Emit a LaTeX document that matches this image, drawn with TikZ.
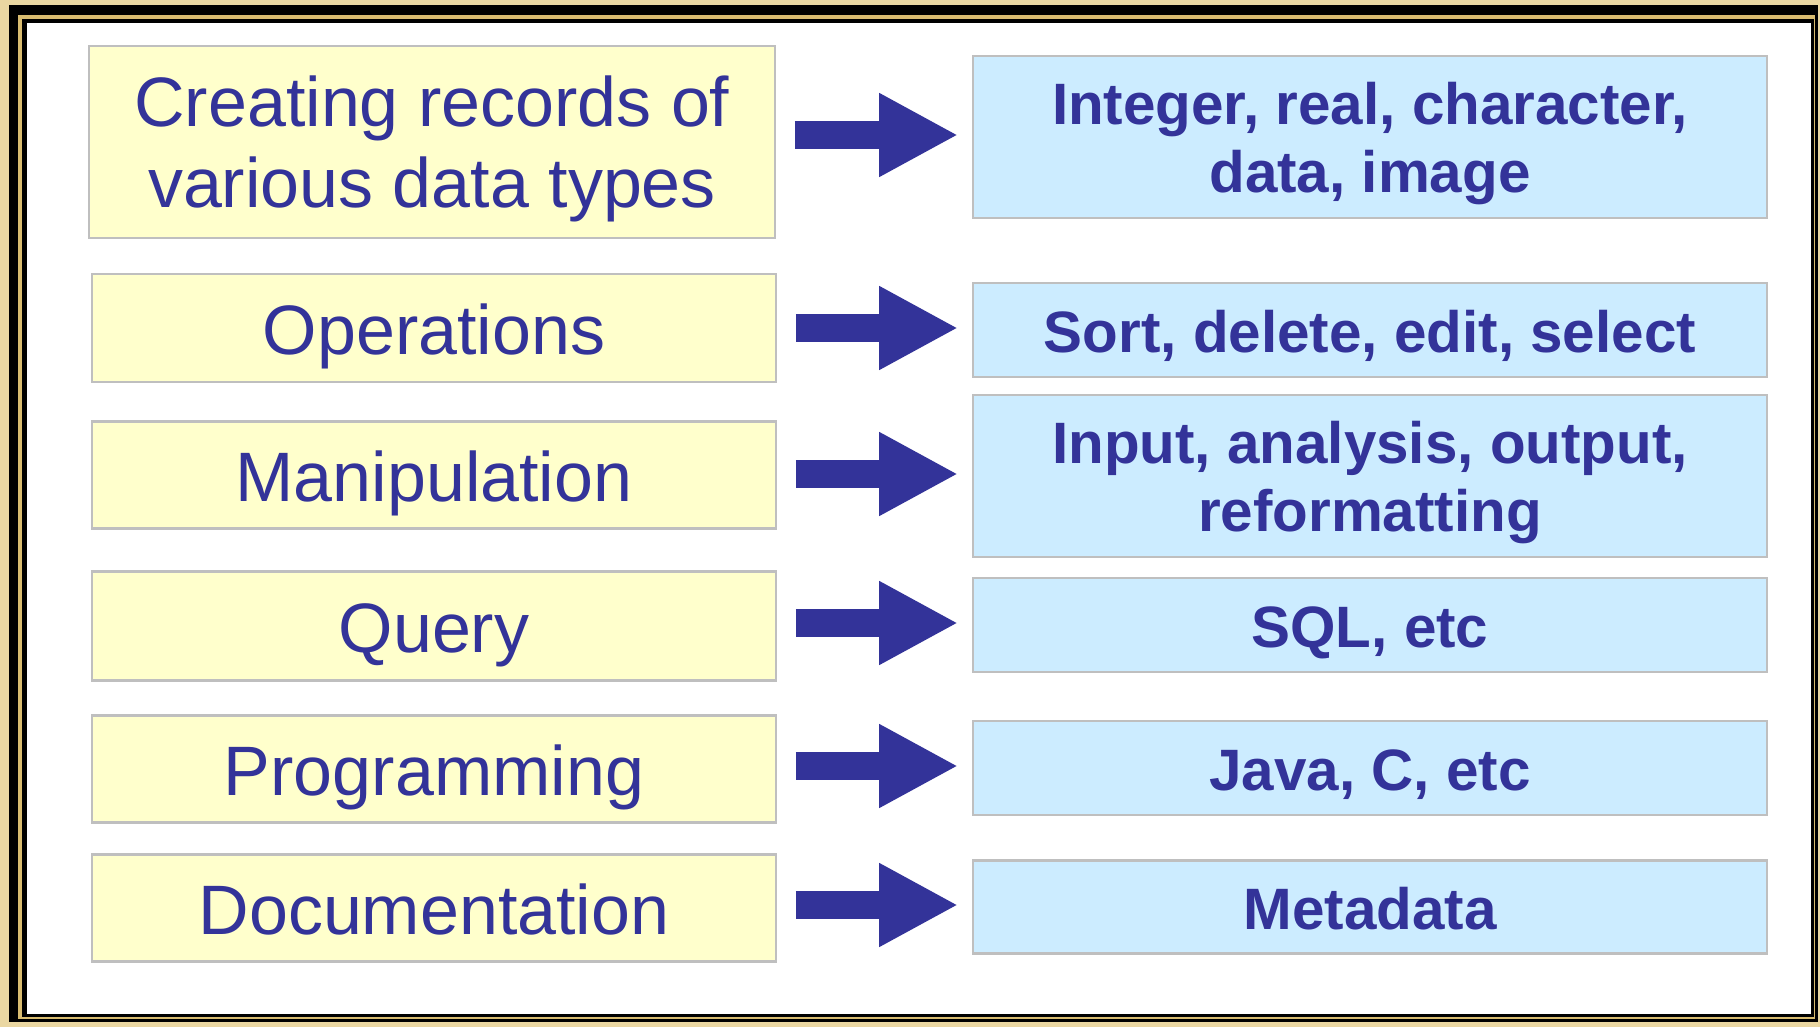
\documentclass[tikz,border=0pt]{standalone}
\usepackage{fontspec}
\setmainfont{Liberation Sans}
\usepackage{tikz}
\usetikzlibrary{arrows.meta, calc}

\definecolor{navy}{HTML}{333399}
\definecolor{pale}{HTML}{FFFFCC}
\definecolor{sky}{HTML}{CCECFF}
\definecolor{edge}{HTML}{BFBFBF}
\definecolor{sand}{HTML}{EAD7A2}
\definecolor{gold}{HTML}{D9BC70}

\begin{document}
\begin{tikzpicture}[x=0.01cm, y=-0.01cm,
    task/.style={draw=edge, line width=0.6pt, fill=pale, text=navy, align=center,
        minimum width=6.83cm, inner sep=0pt, text height=0.67cm, text depth=0.15cm,
        font=\fontsize{19.9}{23}\selectfont},
    tool/.style={draw=edge, line width=0.6pt, fill=sky, text=navy, align=center,
        minimum width=7.93cm, inner sep=0pt, text height=0.55cm, text depth=0.1cm,
        font=\bfseries\fontsize{16.6}{19.2}\selectfont},
    bigarrow/.style={draw=navy, line width=0.27cm,
        -{Triangle[length=0.79cm, width=0.78cm]}}]
            % frame
            \useasboundingbox (0,0) rectangle (1820,1027);
            \fill [sand] (0,0) rectangle (1820,1027);
            \fill [black] (9,5) rectangle (1818,1022);
            \fill [gold] (18,15) rectangle (1815,1019);
            \fill [black] (22,19) rectangle (1814,1017);
            \fill [white] (27,23) rectangle (1811,1014);
            % left column
            \node [task, minimum width=6.85cm, minimum height=1.92cm, text height=1.46cm, text depth=0.16cm] (l1) at (432,142) {Creating records of\\various data types};
            \node [task, minimum height=1.08cm] (l2) at (434,328) {Operations};
            \node [task, minimum height=1.07cm] (l3) at (434,475) {Manipulation};
            \node [task, minimum height=1.09cm] (l4) at (434,626) {Query};
            \node [task, minimum height=1.07cm] (l5) at (434,769) {Programming};
            \node [task, minimum height=1.07cm] (l6) at (434,908) {Documentation};
            % right column
            \node [tool, minimum height=1.62cm, text height=1.2cm] (r1) at (1370,137) {Integer, real, character,\\data, image};
            \node [tool, minimum height=0.94cm] (r2) at (1370,330) {Sort, delete, edit, select};
            \node [tool, minimum height=1.62cm, text height=1.2cm] (r3) at (1370,476) {Input, analysis, output,\\reformatting};
            \node [tool, minimum height=0.94cm] (r4) at (1370,625) {SQL, etc};
            \node [tool, minimum height=0.94cm] (r5) at (1370,768) {Java, C, etc};
            \node [tool, minimum height=0.93cm] (r6) at (1370,907) {Metadata};
            % arrows
            \foreach \i in {1,...,6}
                \draw [bigarrow] ($(l\i.east |- r\i.west)+(19,-2)$) -- ($(r\i.west)+(-14,-2)$);
\end{tikzpicture}
\end{document}
